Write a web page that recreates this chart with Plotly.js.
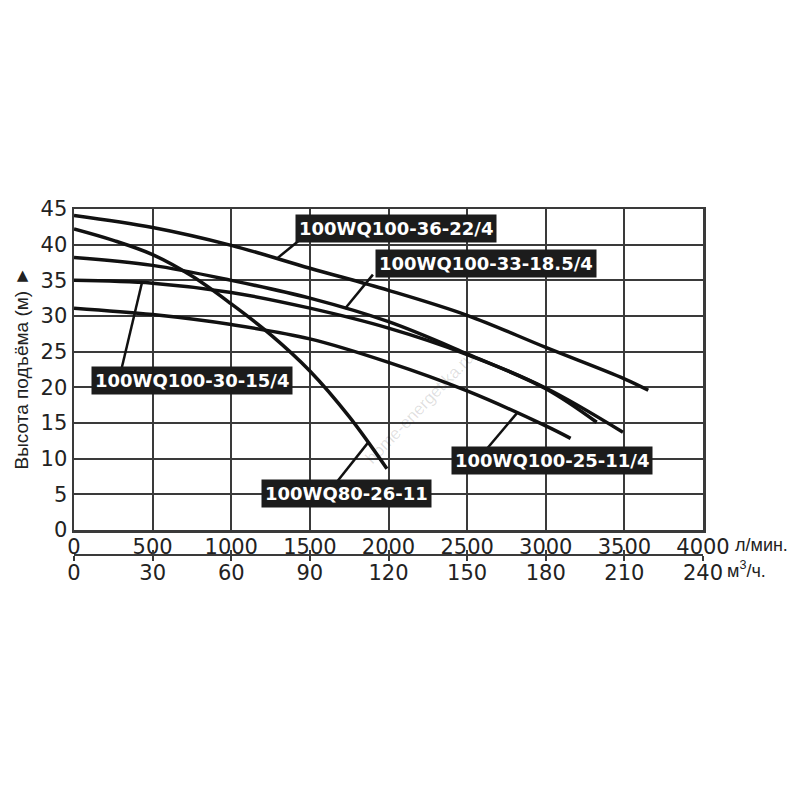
<!DOCTYPE html>
<html>
<head>
<meta charset="utf-8">
<script src="https://cdn.plot.ly/plotly-3.0.1.min.js"></script>
<style>
  body { margin: 0; background: #fff; }
  #chart { width: 800px; height: 800px; }
</style>
</head>
<body>
<div id="chart"></div>
<script>
// расход л/мин и напор м
const q36 = [0, 500, 1000, 1500, 2000, 2500, 3000, 3500, 3652]
const h36 = [44.1, 42.4, 39.9, 36.7, 33.6, 30.1, 25.6, 21.2, 19.6]

const q33 = [0, 500, 1000, 1500, 2000, 2500, 3000, 3324]
const h33 = [38.2, 37.1, 35.0, 32.5, 29.2, 24.7, 19.8, 15.1]

const q30 = [0, 500, 1000, 1500, 2000, 2500, 3000, 3491]
const h30 = [35.0, 34.6, 33.3, 31.1, 28.3, 24.6, 19.9, 13.7]

const q25 = [0, 500, 1000, 1500, 2000, 2500, 3000, 3158]
const h25 = [31.1, 30.2, 28.8, 26.8, 23.5, 19.5, 14.6, 12.85]

const q80 = [0, 250, 500, 750, 1000, 1250, 1500, 1750, 1990]
const h80 = [42.2, 40.6, 38.6, 35.6, 31.7, 27.4, 22.3, 15.9, 8.6]

const names = [
  "100WQ100-36-22/4",
  "100WQ100-33-18.5/4",
  "100WQ100-30-15/4",
  "100WQ100-25-11/4",
  "100WQ80-26-11",
]

const lpmTicks = [0, 500, 1000, 1500, 2000, 2500, 3000, 3500, 4000]
const m3hTicks = [0, 30, 60, 90, 120, 150, 180, 210, 240]
const headTicks = [0, 5, 10, 15, 20, 25, 30, 35, 40, 45]

const yTitle = "Высота подъёма (м) ►"
const lpmUnit = "л/мин."
const m3hUnit = "м<sup>3</sup>/ч."
const watermark = "home-energetika.ru"

const series = [
  [q36, h36],
  [q33, h33],
  [q30, h30],
  [q25, h25],
  [q80, h80],
]

// где стоят подписи (центр плашки, начало выноски, точка на кривой по расходу)
const labelPos = [
  { x: 2048, y: 42.2, sx: 1437, sy: 40.7, tq: 1290 },
  { x: 2620, y: 37.4, sx: 1901, sy: 35.8, tq: 1723 },
  { x: 750, y: 20.9, sx: 299, sy: 22.3, tq: 432 },
  { x: 3040, y: 9.8, sx: 2626, sy: 11.4, tq: 2817 },
  { x: 1736, y: 5.05, sx: 1666, sy: 6.6, tq: 1870 },
]

function interp(qs, hs, q) {
  for (let i = 0; i < qs.length - 1; i++) {
    if (q >= qs[i] && q <= qs[i + 1]) {
      let t = (q - qs[i]) / (qs[i + 1] - qs[i])
      return hs[i] + t * (hs[i + 1] - hs[i])
    }
  }
  return hs[hs.length - 1]
}

const gridCol = "#3a3a3a"
const txtCol = "#222"

let data = series.map((s, i) => ({
  x: s[0],
  y: s[1],
  mode: "lines",
  type: "scatter",
  name: names[i],
  line: { color: "#111", width: 3.5, shape: "spline", smoothing: 1 },
  showlegend: false,
  hoverinfo: "skip",
}))

// пустые следы, чтобы нижние оси м3/ч нарисовались
data.push({ x: m3hTicks, y: m3hTicks.map(() => null), xaxis: "x2", yaxis: "y", mode: "lines", showlegend: false, hoverinfo: "skip" })
data.push({ x: m3hTicks, y: m3hTicks.map(() => null), xaxis: "x3", yaxis: "y", mode: "lines", showlegend: false, hoverinfo: "skip" })

let shapes = []
let annotations = []

labelPos.forEach((p, i) => {
  let tip = interp(series[i][0], series[i][1], p.tq)
  shapes.push({
    type: "line",
    xref: "x",
    yref: "y",
    x0: p.sx,
    y0: p.sy,
    x1: p.tq,
    y1: tip,
    line: { color: "#111", width: 2.5 },
    layer: "above",
  })
  annotations.push({
    x: p.x,
    y: p.y,
    xref: "x",
    yref: "y",
    text: names[i],
    showarrow: false,
    bgcolor: "#1c1c1c",
    borderpad: 3,
    font: { family: "DejaVu Sans", size: 18, color: "#fff", weight: "bold" },
  })
})

annotations.push({
  xref: "paper", yref: "paper",
  x: -0.083, y: 0.594,
  xanchor: "center", yanchor: "middle",
  text: yTitle,
  textangle: -90,
  showarrow: false,
  font: { family: "Liberation Sans", size: 19, color: txtCol },
})
annotations.push({
  xref: "x", yref: "paper",
  x: 4000, y: 0.141,
  xanchor: "left", yanchor: "middle", xshift: 30,
  text: lpmUnit,
  showarrow: false,
  font: { family: "Liberation Sans", size: 18, color: txtCol },
})
annotations.push({
  xref: "x", yref: "paper",
  x: 4000, y: 0.077,
  xanchor: "left", yanchor: "middle", xshift: 22,
  text: m3hUnit,
  showarrow: false,
  font: { family: "Liberation Sans", size: 18, color: txtCol },
})
annotations.push({
  xref: "x", yref: "y",
  x: 2194, y: 17.1,
  text: watermark,
  textangle: -46,
  showarrow: false,
  font: { family: "Liberation Sans", size: 17, color: "rgba(0,0,0,0.13)" },
})

const tickFont = { family: "DejaVu Sans", size: 21, color: txtCol }

const layout = {
  width: 800,
  height: 800,
  margin: { l: 74, r: 97, t: 209, b: 200 },
  paper_bgcolor: "#fff",
  plot_bgcolor: "#fff",
  xaxis: {
    range: [0, 4000],
    tickvals: lpmTicks,
    ticks: "",
    ticklabelstandoff: -4,
    showgrid: true,
    gridcolor: gridCol,
    gridwidth: 2,
    zeroline: false,
    showline: true,
    mirror: true,
    linecolor: gridCol,
    linewidth: 2.5,
    tickfont: tickFont,
    fixedrange: true,
  },
  xaxis2: {
    range: [0, 240],
    overlaying: "x",
    anchor: "free",
    position: 0.115,
    side: "bottom",
    tickvals: m3hTicks,
    ticks: "outside",
    ticklen: 5,
    tickwidth: 2,
    tickcolor: gridCol,
    ticklabelstandoff: -6,
    showgrid: false,
    zeroline: false,
    showline: true,
    linecolor: gridCol,
    linewidth: 2,
    tickfont: tickFont,
  },
  xaxis3: {
    range: [0, 240],
    overlaying: "x",
    anchor: "free",
    position: 0.115,
    side: "bottom",
    tickvals: m3hTicks,
    ticks: "inside",
    ticklen: 5,
    tickwidth: 2,
    tickcolor: gridCol,
    showticklabels: false,
    showgrid: false,
    zeroline: false,
    showline: false,
  },
  yaxis: {
    range: [0, 45],
    domain: [0.179, 1],
    tickvals: headTicks,
    ticks: "",
    showgrid: true,
    gridcolor: gridCol,
    gridwidth: 2,
    zeroline: false,
    showline: true,
    mirror: true,
    linecolor: gridCol,
    linewidth: 2.5,
    tickfont: tickFont,
    fixedrange: true,
  },
  shapes: shapes,
  annotations: annotations,
}

Plotly.newPlot("chart", data, layout, { displayModeBar: false, staticPlot: true })
</script>
</body>
</html>
